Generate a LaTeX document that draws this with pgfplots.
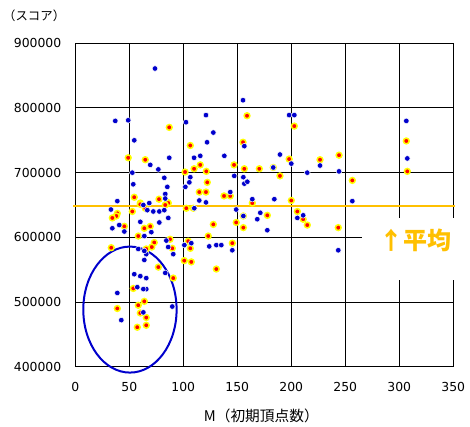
\documentclass[border=0pt]{standalone}
\usepackage{fontspec}
\usepackage{pgfplots}
\pgfplotsset{compat=1.18}
\setmainfont{DejaVu Sans}
\newfontfamily\cjk{Noto Sans CJK JP}
\definecolor{dotblue}{HTML}{0000CC}
\definecolor{avgorange}{HTML}{FFC000}
\definecolor{ringyellow}{HTML}{FFFF00}
\definecolor{dotred}{HTML}{FF0000}
\begin{document}
\begin{tikzpicture}
\begin{axis}[
  at={(0pt,0pt)}, anchor=south west,
  scale only axis, width=378pt, height=323.4pt,
  xmin=0, xmax=350, ymin=400000, ymax=900000,
  xtick={0,50,100,150,200,250,300,350},
  ytick={400000,500000,600000,700000,800000,900000},
  scaled y ticks=false,
  /pgf/number format/assume math mode=true,
  yticklabel style={/pgf/number format/fixed,/pgf/number format/1000 sep={}, xshift=-10.5pt},
  xticklabel style={yshift=-12pt},
  tick label style={font=\fontsize{12.4}{14}\selectfont},
  grid=major,
  major grid style={black, line width=1pt},
  axis line style={black, line width=1pt},
  major tick length=0pt,
  xlabel={\cjk M（初期頂点数）},
  xlabel style={at={(axis description cs:0.5,0)}, anchor=center, yshift=-49.3pt, xshift=-3pt, font=\fontsize{14.7}{16}\selectfont},
  clip=false,
]
\addplot[only marks, mark=*, mark size=2.9pt, mark options={fill=dotred, draw=ringyellow, line width=1.5pt}] coordinates {
(87,770000) (159,788000) (155.3,747000) (106.5,742000) (49,723000) (64.8,720000)
(147,712000) (115.7,712000) (110,706000) (101.6,701000) (121.3,702000) (156.5,706000)
(170.4,706000) (122.2,685000) (54.6,662000) (77.5,659000) (114.8,670000) (121,670000)
(137.7,664000) (143.5,664000) (163.9,653000) (60.2,653000) (85.2,654000) (202.8,772000)
(198,721000) (226.6,720000) (244.2,727000) (189.5,695000) (256.5,688000) (306.5,749000)
(307.4,702000) (200,657000) (149,623000) (155.6,615000) (177.8,634000) (205.6,640000)
(211,628000) (214.8,619000) (243.5,615000) (145.4,591000) (102.8,645000) (109.3,645000)
(127.8,620000) (123.1,602000) (106.5,583000) (87.7,597000) (60.2,651000) (64.8,645000)
(86.1,653000) (83.3,650000) (52.8,640000) (38.9,637000) (38,633000) (34.3,630000)
(45.4,617000) (69.4,617000) (63.9,614000) (58.3,602000) (73.1,592000) (33.3,584000)
(70.8,585000) (65.7,582000) (89.8,583000) (76.9,554000) (90.7,537000) (53.7,521000)
(63.9,501000) (58.3,495000) (38.9,490000) (60.2,483000) (65.7,476000) (65.7,464000)
(57.4,461000) (100.9,564000) (107.4,562000) (130.6,551000) (183.3,708000) (155.6,633000)
(104.6,594000)
};
\addplot[only marks, mark=*, mark size=2.8pt, mark options={fill=dotblue, draw=white, line width=0.5pt}] coordinates {
(73.8,861000) (155.3,812000) (37,780000) (49,781000) (102.5,778000) (121,789000)
(127.8,762000) (54.6,750000) (156.5,741000) (122,747000) (87,723000) (69.4,712000)
(76.9,705000) (110,723000) (115.7,726000) (138,726000) (52.8,700000) (82.4,692000)
(106.5,693000) (147.2,695000) (155.6,693000) (105.6,685000) (156.5,683000) (159.3,686000)
(53.7,682000) (85.2,678000) (101.9,678000) (38.9,656000) (83.3,667000) (83.3,660000)
(143.5,670000) (114.8,657000) (121,654000) (163.9,659000) (68.5,653000) (149,643000)
(33,643000) (198,789000) (202.8,789000) (189.5,728000) (200,714000) (226.6,711000)
(244.2,702000) (183.3,708000) (214.8,700000) (306.5,780000) (307.4,722000) (184.3,659000)
(256.5,656000) (155.6,633000) (171.3,638000) (168.5,628000) (177.8,611000) (205.6,630000)
(211,634000) (243.5,580000) (145.4,580000) (110.2,645000) (101,588000) (107.4,591000)
(124,586000) (130.6,588000) (135.2,588000) (63,650000) (66.7,642000) (72.2,640000)
(77.8,640000) (82.4,642000) (40.7,619000) (34.3,614000) (45.4,609000) (60.2,624000)
(70.4,608000) (63.9,602000) (84.3,595000) (86,585000) (58.3,582000) (65.7,574000)
(63.9,565000) (90.7,574000) (83.3,545000) (54.6,543000) (60.2,540000) (65.7,537000)
(57.4,523000) (65.7,520000) (63,520000) (38.9,514000) (89.8,493000) (63,484000)
(42.6,472000) (77.8,623000) (86.1,630000) (63.9,579000)
};
\addplot[avgorange, line width=2.2pt, forget plot] coordinates {(-2,649000) (351.5,649000)};
\draw[dotblue, line width=2pt] (axis cs:50.6,488300) ellipse [x radius=43.2, y radius=97400];
\fill[white] (axis cs:265.2,534000) rectangle (axis cs:352,630000);
\node[text=avgorange, font=\cjk\bfseries\fontsize{24}{26}\selectfont] at (axis cs:315,594900) {↑平均};
\end{axis}
\node[anchor=west, font=\cjk\fontsize{12.4}{14}\selectfont, inner sep=0pt] at (-72.3pt,351.2pt) {（スコア）};
\pgfresetboundingbox
\path[use as bounding box] (-75.3pt,-60.3pt) rectangle (394.7pt,366.7pt);
\end{tikzpicture}
\end{document}
